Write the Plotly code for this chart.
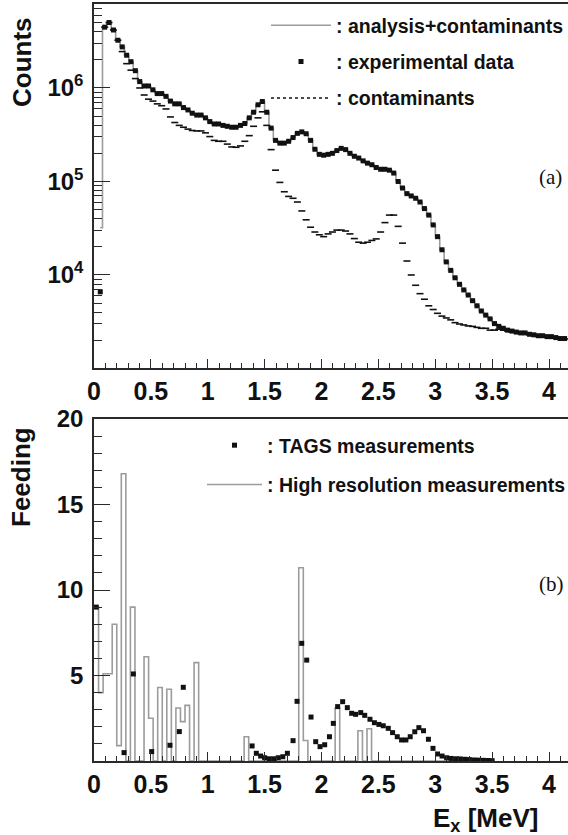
import numpy as np
import plotly.graph_objects as go

# ---------------- top panel data (a) ----------------
energy_a = [0.055, 0.094, 0.132, 0.171, 0.210, 0.248, 0.287, 0.325, 0.364, 0.402,
            0.441, 0.479, 0.518, 0.556, 0.595, 0.633, 0.672, 0.710, 0.749, 0.787,
            0.826, 0.864, 0.903, 0.941, 0.980, 1.018, 1.057, 1.095, 1.134, 1.172,
            1.211, 1.249, 1.288, 1.326, 1.365, 1.403, 1.442, 1.480, 1.519, 1.557,
            1.596, 1.634, 1.673, 1.711, 1.750, 1.788, 1.827, 1.865, 1.904, 1.942,
            1.981, 2.019, 2.058, 2.096, 2.135, 2.173, 2.212, 2.250, 2.289, 2.327,
            2.366, 2.404, 2.443, 2.481, 2.520, 2.558, 2.597, 2.635, 2.674, 2.712,
            2.751, 2.789, 2.828, 2.866, 2.905, 2.943, 2.982, 3.020, 3.059, 3.097,
            3.136, 3.174, 3.213, 3.251, 3.290, 3.328, 3.367, 3.405, 3.444, 3.482,
            3.521, 3.559, 3.598, 3.636, 3.675, 3.713, 3.752, 3.790, 3.829, 3.867,
            3.906, 3.944, 3.983, 4.021, 4.060, 4.098, 4.137]

exp_counts = [6.6e3, 4.47e6, 5.01e6, 4.17e6, 3.24e6, 2.75e6, 2.24e6, 1.91e6, 1.53e6, 1.17e6,
              1.05e6, 1.05e6, 9.55e5, 8.71e5, 8.71e5, 8.13e5, 7.24e5, 6.76e5, 6.76e5, 6.17e5,
              5.82e5, 5.37e5, 5.13e5, 5.13e5, 4.79e5, 4.37e5, 4.12e5, 4.12e5, 3.98e5, 3.89e5,
              3.80e5, 3.80e5, 3.98e5, 4.17e5, 4.79e5, 5.50e5, 6.61e5, 7.16e5, 5.50e5, 3.72e5,
              2.75e5, 2.57e5, 2.57e5, 2.69e5, 2.95e5, 3.27e5, 3.39e5, 3.24e5, 2.75e5, 2.21e5,
              1.95e5, 1.91e5, 1.95e5, 2.00e5, 2.14e5, 2.26e5, 2.19e5, 2.00e5, 1.86e5, 1.78e5,
              1.66e5, 1.57e5, 1.51e5, 1.41e5, 1.35e5, 1.35e5, 1.32e5, 1.23e5, 1.00e5, 8.51e4,
              7.41e4, 7.00e4, 6.61e4, 6.03e4, 5.13e4, 4.37e4, 3.43e4, 2.57e4, 1.86e4, 1.38e4,
              1.12e4, 9.33e3, 7.94e3, 6.92e3, 6.10e3, 5.31e3, 4.68e3, 4.12e3, 3.72e3, 3.39e3,
              3.02e3, 2.82e3, 2.69e3, 2.57e3, 2.51e3, 2.45e3, 2.40e3, 2.40e3, 2.32e3, 2.29e3,
              2.24e3, 2.24e3, 2.19e3, 2.19e3, 2.14e3, 2.09e3, 2.09e3]

fit_counts = [3.2e4] + exp_counts[1:]

contam_counts = [None, 4.47e6, 5.01e6, 4.17e6, 3.24e6, 2.45e6, 1.82e6, 1.55e6, 1.26e6, 1.00e6,
                 8.41e5, 7.59e5, 7.24e5, 6.76e5, 6.46e5, 5.96e5, 4.90e5, 4.27e5, 3.98e5, 3.80e5,
                 3.63e5, 3.51e5, 3.47e5, 3.47e5, 3.31e5, 3.02e5, 2.75e5, 2.69e5, 2.69e5, 2.51e5,
                 2.34e5, 2.32e5, 2.40e5, 2.69e5, 3.09e5, 3.89e5, 4.79e5, 5.56e5, 3.98e5, 2.19e5,
                 1.32e5, 9.77e4, 7.76e4, 6.92e4, 6.61e4, 6.03e4, 4.84e4, 3.89e4, 3.24e4, 2.88e4,
                 2.69e4, 2.57e4, 2.75e4, 2.88e4, 3.02e4, 3.02e4, 2.95e4, 2.75e4, 2.45e4, 2.24e4,
                 2.19e4, 2.24e4, 2.34e4, 2.43e4, 2.88e4, 3.63e4, 4.37e4, 4.37e4, 3.31e4, 2.19e4,
                 1.41e4, 1.00e4, 7.76e3, 6.31e3, 5.50e3, 4.68e3, 4.27e3, 3.89e3, 3.63e3, 3.47e3,
                 3.31e3, 3.09e3, 2.99e3, 2.92e3, 2.85e3, 2.82e3, 2.75e3, 2.69e3, 2.69e3, 2.57e3,
                 2.57e3, 2.63e3, 2.57e3, 2.51e3, 2.45e3, 2.43e3, 2.37e3, 2.34e3, 2.29e3, 2.26e3,
                 2.21e3, 2.21e3, 2.16e3, 2.16e3, 2.11e3, 2.07e3, 2.07e3]

# ---------------- bottom panel data (b) ----------------
tags_energy = [0.02, 0.264, 0.346, 0.507, 0.668, 0.75, 0.785,
               1.39, 1.427, 1.465, 1.50, 1.54, 1.58, 1.62, 1.66, 1.70,
               1.75, 1.785, 1.826, 1.87, 1.908, 1.949, 1.987, 2.028, 2.07, 2.104,
               2.142, 2.186, 2.227, 2.265, 2.30, 2.345, 2.38, 2.426, 2.465, 2.505,
               2.543, 2.587, 2.625, 2.666, 2.704, 2.742, 2.78, 2.82, 2.856, 2.897,
               2.94, 2.98, 3.02, 3.06, 3.10, 3.14, 3.18, 3.22, 3.26, 3.30,
               3.34, 3.38, 3.42, 3.46, 3.50]
tags_feeding = [9.0, 0.49, 5.09, 0.55, 0.92, 1.72, 4.31,
                0.88, 0.45, 0.29, 0.19, 0.13, 0.13, 0.19, 0.25, 0.45,
                1.19, 3.49, 6.88, 5.9, 2.57, 1.13, 0.84, 0.95, 1.42, 2.2,
                3.18, 3.47, 3.12, 2.79, 2.73, 2.83, 2.67, 2.44, 2.24, 2.14,
                2.06, 1.91, 1.66, 1.42, 1.23, 1.23, 1.42, 1.71, 1.95, 1.77,
                1.27, 0.74, 0.41, 0.29, 0.19, 0.15, 0.13, 0.12, 0.10, 0.08,
                0.06, 0.05, 0.04, 0.03, 0.02]

# high resolution feeding, 40 keV bins starting at 0 MeV
hr_feeding = [9.0, 4.0, 5.1, 5.1, 8.0, 0.9, 16.8, 0, 9.0, 0,
              0, 6.1, 2.5, 0, 4.3, 0, 4.2, 0, 3.1, 2.3,
              3.25, 0, 5.75, 0, 0, 0, 0, 0, 0, 0,
              0, 0, 0, 1.42, 0, 0, 0, 0, 0, 0,
              0, 0, 0, 0, 0, 11.3, 1.2, 0, 0, 0,
              0, 0, 0, 3.1, 0, 0, 0, 0, 1.77, 0,
              1.89, 0, 0, 0, 0, 0, 0, 0, 0, 0,
              0, 0, 0, 0, 0, 0, 0, 0, 0, 0,
              0, 0, 0, 0, 0, 0, 0, 0]
hr_bin_width = 0.04
hr_edges = np.round(np.arange(len(hr_feeding) + 1) * hr_bin_width, 4)
hr_step_y = hr_feeding + [hr_feeding[-1]]

x_ticks = [0, 0.5, 1, 1.5, 2, 2.5, 3, 3.5, 4]
x_ticktext = ["0", "0.5", "1", "1.5", "2", "2.5", "3", "3.5", "4"]
ya_ticks = [1e4, 1e5, 1e6]
ya_ticktext = ["10<sup>4</sup>", "10<sup>5</sup>", "10<sup>6</sup>"]
ya_minor = [m * 10 ** e for e in (3, 4, 5, 6) for m in range(2, 10)]
yb_ticks = [5, 10, 15, 20]

# ---------------- figure ----------------
W, H = 568, 835
FONT = "Liberation Sans, Arial, Helvetica, sans-serif"
AX = "#2a2a2a"
GRAY = "#9c9c9c"
TXT = "#111111"

def px_x(p):
    return p / W

def px_y(p):
    return 1 - p / H

fig = go.Figure()

# top panel
fig.add_trace(go.Scatter(x=energy_a, y=fit_counts, mode="lines", line_shape="hvh",
                         line=dict(color=GRAY, width=1.6), name=": analysis+contaminants",
                         legend="legend", legendgroup="a1", legendrank=1, xaxis="x", yaxis="y"))
fig.add_trace(go.Scatter(x=energy_a, y=contam_counts, mode="markers",
                         marker=dict(symbol="line-ew", size=5, line=dict(color="#111", width=1.6)),
                         showlegend=False, xaxis="x", yaxis="y"))
fig.add_trace(go.Scatter(x=energy_a, y=exp_counts, mode="markers",
                         marker=dict(symbol="square", size=5, color="#111"),
                         name=": experimental data", legend="legend", legendgroup="a2", legendrank=2,
                         xaxis="x", yaxis="y"))
fig.add_trace(go.Scatter(x=[None], y=[None], mode="lines",
                         line=dict(color="#111", width=1.5, dash="3px,3px"),
                         name=": contaminants", legend="legend", legendgroup="a3", legendrank=3,
                         xaxis="x", yaxis="y"))

# bottom panel
fig.add_trace(go.Scatter(x=hr_edges, y=hr_step_y, mode="lines", line_shape="hv",
                         line=dict(color=GRAY, width=1.6),
                         name=": High resolution measurements", legend="legend2",
                         legendgroup="b2", legendrank=2, xaxis="x2", yaxis="y2"))
fig.add_trace(go.Scatter(x=tags_energy, y=tags_feeding, mode="markers",
                         marker=dict(symbol="square", size=5, color="#111"),
                         name=": TAGS measurements", legend="legend2",
                         legendgroup="b1", legendrank=1, xaxis="x2", yaxis="y2"))

tickfont = dict(family=FONT, size=25, color=TXT, weight="bold")
xdom = [px_x(94), 1.0]
xrange = [0, (W - 94) / 113.75]

common_x = dict(domain=xdom, range=xrange, tickmode="array", tickvals=x_ticks, ticktext=x_ticktext,
                ticks="inside", ticklen=9, tickwidth=1.3, tickcolor=AX,
                minor=dict(ticks="inside", ticklen=5, tickwidth=1.1, tickcolor=AX, dtick=0.1, tick0=0),
                showline=True, linecolor=AX, linewidth=1.5, mirror=True,
                showgrid=False, zeroline=False, tickfont=tickfont, ticklabelstandoff=0)

fig.update_layout(
    width=W, height=H,
    margin=dict(l=0, r=0, t=0, b=0, autoexpand=False),
    paper_bgcolor="white", plot_bgcolor="white",
    xaxis=dict(anchor="y", **common_x),
    yaxis=dict(type="log", domain=[px_y(368), px_y(4)], range=[3.005, 6.898],
               tickmode="array", tickvals=ya_ticks, ticktext=ya_ticktext,
               ticks="inside", ticklen=16, tickwidth=1.3, tickcolor=AX,
               minor=dict(ticks="inside", ticklen=8, tickwidth=1.1, tickcolor=AX,
                          tickmode="array", tickvals=ya_minor),
               showline=True, linecolor=AX, linewidth=1.5, mirror=False,
               showgrid=False, zeroline=False, anchor="x",
               tickfont=dict(family=FONT, size=24, color=TXT, weight="bold"),
               ticklabelstandoff=4),
    xaxis2=dict(anchor="y2", **common_x),
    yaxis2=dict(domain=[px_y(761), px_y(419)], range=[0, 20],
                tickmode="array", tickvals=yb_ticks,
                ticks="inside", ticklen=16, tickwidth=1.3, tickcolor=AX,
                minor=dict(ticks="inside", ticklen=8, tickwidth=1.1, tickcolor=AX, dtick=1, tick0=0),
                showline=True, linecolor=AX, linewidth=1.5, mirror=False,
                showgrid=False, zeroline=False, anchor="x2",
                tickfont=dict(family=FONT, size=24, color=TXT, weight="bold"),
                ticklabelstandoff=4),
    legend=dict(x=px_x(266), y=px_y(6), xanchor="left", yanchor="top",
                bgcolor="rgba(0,0,0,0)", itemwidth=60, traceorder="grouped",
                font=dict(family=FONT, size=19.5, color=TXT, weight="bold"),
                tracegroupgap=8),
    legend2=dict(x=px_x(202), y=px_y(426), xanchor="left", yanchor="top",
                 bgcolor="rgba(0,0,0,0)", itemwidth=55, traceorder="grouped",
                 font=dict(family=FONT, size=19.5, color=TXT, weight="bold"),
                 tracegroupgap=11),
    showlegend=True,
)

title_font = dict(family=FONT, size=26, color=TXT, weight="bold")
fig.add_annotation(text="Counts", x=px_x(22), y=px_y(62), xref="paper", yref="paper",
                   textangle=-90, showarrow=False, font=title_font, xanchor="center", yanchor="middle")
fig.add_annotation(text="Feeding", x=px_x(21), y=px_y(477), xref="paper", yref="paper",
                   textangle=-90, showarrow=False, font=title_font, xanchor="center", yanchor="middle")
fig.add_annotation(text="E<sub>x</sub> [MeV]", x=px_x(540), y=px_y(819), xref="paper", yref="paper",
                   showarrow=False, font=title_font, xanchor="right", yanchor="middle")
serif = dict(family="Liberation Serif, Times New Roman, serif", size=21, color=TXT)
fig.add_annotation(text="(a)", x=px_x(550), y=px_y(177), xref="paper", yref="paper",
                   showarrow=False, font=serif, xanchor="center", yanchor="middle")
fig.add_annotation(text="(b)", x=px_x(551), y=px_y(584), xref="paper", yref="paper",
                   showarrow=False, font=serif, xanchor="center", yanchor="middle")

fig.write_html("out.html")
